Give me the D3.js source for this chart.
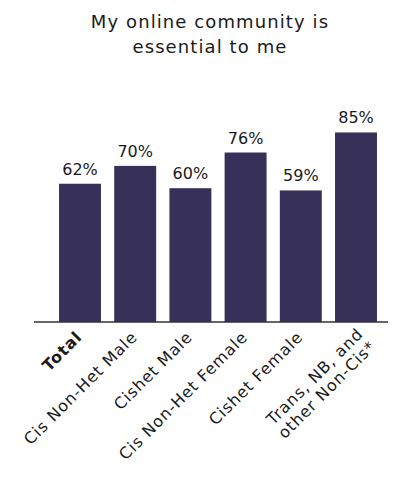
<!DOCTYPE html>
<html>
<head>
<meta charset="utf-8">
<script src="https://cdn.jsdelivr.net/npm/d3@7"></script>
<style>
  body { margin: 0; background: #fff; }
  text { font-family: "DejaVu Sans", sans-serif; fill: #1a1a1a; }
</style>
</head>
<body>
<div id="chart"></div>
<script>
// Data
const categories = ["Total", "Cis Non-Het Male", "Cishet Male", "Cis Non-Het Female", "Cishet Female", "Trans, NB, and\nother Non-Cis*"];
const values = [62, 70, 60, 76, 59, 85];
const titleLines = ["My online community is", "essential to me"];

const width = 395;
const height = 478;
const baseline = 322;

const svg = d3.select("#chart")
    .append("svg")
    .attr("width", width)
    .attr("height", height);

// Scales
const xScale = d3.scaleBand()
    .domain(categories)
    .range([52.4, 383.6])
    .paddingInner(0.24)
    .paddingOuter(0.12);

const yScale = d3.scaleLinear()
    .domain([0, 100])
    .range([baseline, baseline - 223]);

// Title
svg.append("text")
    .attr("x", 210)
    .attr("y", 28)
    .style("text-anchor", "middle")
    .style("font-size", "18px")
    .style("letter-spacing", "1.1px")
    .selectAll("tspan")
    .data(titleLines)
    .enter().append("tspan")
    .attr("x", 210)
    .attr("dy", (d, i) => i === 0 ? 0 : 25)
    .text(d => d);

// Bars
svg.selectAll(".bar")
    .data(values)
    .enter().append("rect")
    .attr("class", "bar")
    .attr("x", (d, i) => xScale(categories[i]))
    .attr("y", d => yScale(d))
    .attr("width", xScale.bandwidth())
    .attr("height", d => baseline - yScale(d))
    .attr("fill", "#37315a");

// Value labels
svg.selectAll(".value")
    .data(values)
    .enter().append("text")
    .attr("class", "value")
    .attr("x", (d, i) => xScale(categories[i]) + xScale.bandwidth() / 2)
    .attr("y", d => yScale(d) - 9)
    .style("text-anchor", "middle")
    .style("font-size", "16px")
    .text(d => d + "%");

// X axis
const xAxis = d3.axisBottom(xScale).tickSize(0).tickPadding(0);
const gx = svg.append("g")
    .attr("class", "x-axis")
    .attr("transform", `translate(0,${baseline})`)
    .call(xAxis);

gx.select(".domain").remove();
gx.append("line")
    .attr("x1", 34)
    .attr("x2", 388)
    .attr("stroke", "#333")
    .attr("stroke-width", 1.5);

gx.selectAll(".tick text").remove();
gx.selectAll(".tick").each(function (d, i) {
    const lines = d.split("\n");
    const t = d3.select(this).append("text")
        .attr("transform", lines.length > 1 ? "translate(0,5) rotate(-45)" : "translate(-5,8) rotate(-45)")
        .style("text-anchor", "end")
        .style("font-size", "16px")
        .style("letter-spacing", "0.9px")
        .style("font-weight", i === 0 ? "bold" : "normal")
        .attr("fill", "#1a1a1a");
    lines.forEach((line, j) => {
        t.append("tspan")
            .attr("x", 0)
            .attr("dy", j === 0 ? "0.71em" : "1.12em")
            .text(line);
    });
});
</script>
</body>
</html>
